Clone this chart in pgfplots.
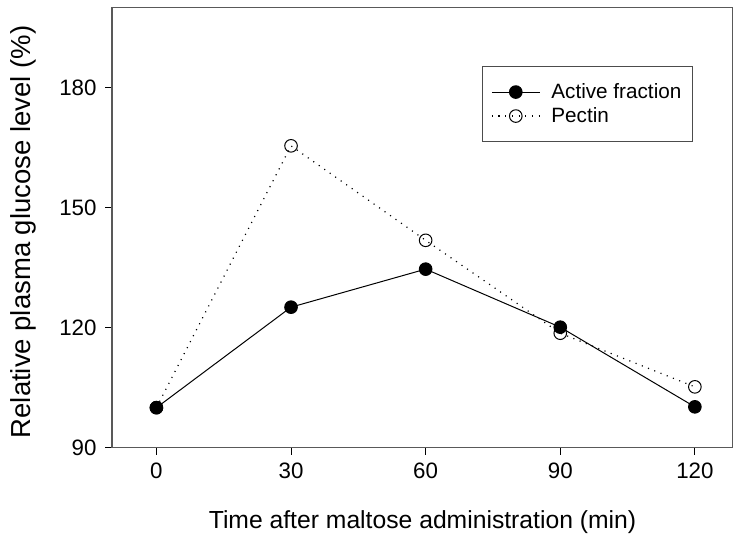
\documentclass[border=0pt]{standalone}
\usepackage{fontspec}
\setmainfont{Liberation Sans}
\usepackage{pgfplots}
\pgfplotsset{compat=1.18}
\begin{document}
\begin{tikzpicture}[x=1pt,y=1pt]
\begin{axis}[
  at={(112pt,93.3pt)}, anchor=south west,
  width=621pt, height=440.4pt, scale only axis,
  xmin=-9.9, xmax=128.5, ymin=90, ymax=200,
  xtick={0,30,60,90,120}, ytick={90,120,150,180},
  tick align=outside, tick pos=left,
  major tick length=7pt,
  axis line style={black!65, line width=1.3pt},
  every tick/.style={black, line width=1pt},
  /pgf/number format/assume math mode=true,
  ticklabel style={font=\fontsize{22.3}{26}\selectfont},
  xticklabel style={yshift=-5pt},
  yticklabel style={xshift=-5pt},
  xlabel={Time after maltose administration (min)},
  ylabel={Relative plasma glucose level (\%)},
  xlabel style={font=\fontsize{24.7}{29}\selectfont, at={(axis description cs:0.5,-0.1687)}, anchor=center},
  ylabel style={font=\fontsize{27.5}{32}\selectfont, at={(axis description cs:-0.1433,0.49)}, anchor=center},
  legend style={at={(0.5953,0.866)}, anchor=north west,
    draw=black!70, line width=1pt,
    font=\fontsize{20.7}{25}\selectfont,
    inner xsep=9pt, inner ysep=15pt, row sep=3.5pt, column sep=9pt,
    nodes={inner sep=2pt}},
  legend cell align=left,
  legend image code/.code={
    \draw[#1, mark=none] (0pt,0pt) -- (48pt,0pt);
    \draw[#1, only marks] plot coordinates {(24pt,0pt)};},
]
\addplot[black, line width=1pt, mark=*, mark size=6.3pt, mark options={fill=black, solid}]
  coordinates {(0,100) (30,125.1) (60,134.6) (90,120.1) (120,100.2)};
\addlegendentry{Active fraction}
\addplot[black, line width=1.2pt, dash pattern=on 1.1pt off 5.6pt, mark=o, mark size=6.3pt, mark options={fill=white, solid, line width=1pt}]
  coordinates {(0,100) (30,165.4) (60,141.8) (90,118.6) (120,105.2)};
\addlegendentry{Pectin}
\end{axis}
\pgfresetboundingbox
\path (0,0) rectangle (733,541);
\end{tikzpicture}
\end{document}
